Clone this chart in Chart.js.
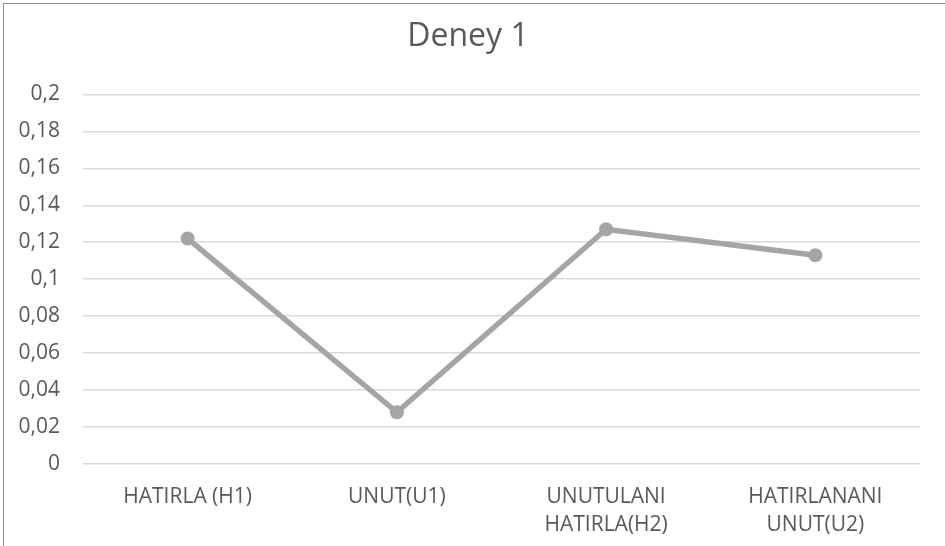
<!DOCTYPE html>
<html>
<head>
<meta charset="utf-8">
<script src="https://cdn.jsdelivr.net/npm/chart.js@4"></script>
<style>
  body { margin: 0; background: #fff; }
  #wrap { position: absolute; left: 0; top: 0; width: 945px; height: 546px; }
  #frame { position: absolute; left: 3px; top: 3px; right: 0; bottom: 0;
           border-left: 1px solid #8c8c8c; border-top: 1px solid #8c8c8c; pointer-events: none; }
</style>
</head>
<body>
<div id="wrap">
  <canvas id="myChart" width="945" height="546"></canvas>
  <div id="frame"></div>
</div>
<script>
// values
const categories = ['HATIRLA (H1)', 'UNUT(U1)', ['UNUTULANI', 'HATIRLA(H2)'], ['HATIRLANANI', 'UNUT(U2)']];
const seriesValues = [0.122, 0.028, 0.127, 0.113];
const yMin = 0;
const yMax = 0.2;
const yStep = 0.02;
const titleText = 'Deney 1';

const textColor = '#595959';
const lineColor = '#a5a5a5';

const data = {
  labels: categories,
  datasets: [{
    label: 'Deney 1',
    data: seriesValues,
    borderColor: lineColor,
    backgroundColor: lineColor,
    borderWidth: 5.5,
    pointRadius: 7,
    pointHoverRadius: 7,
    pointBorderWidth: 0,
    tension: 0
  }]
};

const config = {
  type: 'line',
  data: data,
  options: {
    responsive: false,
    animation: false,
    layout: { padding: { left: 16, right: 25, bottom: 0 } },
    plugins: {
      legend: { display: false },
      tooltip: { enabled: false },
      title: {
        display: true,
        text: titleText,
        color: textColor,
        font: { family: '"Open Sans", sans-serif', size: 32, weight: 'normal' },
        padding: { top: 18, bottom: 38 }
      }
    },
    scales: {
      x: {
        offset: true,
        grid: { display: false },
        border: { display: false },
        afterFit: (scale) => { scale.height = 82; },
        ticks: {
          color: textColor,
          padding: 11,
          maxRotation: 0,
          autoSkip: false,
          font: { family: '"Open Sans", sans-serif', size: 21, lineHeight: 1.32 }
        }
      },
      y: {
        min: yMin,
        max: yMax,
        border: { display: false },
        grid: { color: '#d9d9d9', lineWidth: 1.5, drawTicks: false },
        afterFit: (scale) => { scale.width = 67; },
        ticks: {
          stepSize: yStep,
          color: textColor,
          padding: 23,
          font: { family: '"Open Sans", sans-serif', size: 21 },
          callback: (v) => String(Math.round(v * 100) / 100).replace('.', ',')
        }
      }
    }
  }
};

window.addEventListener('DOMContentLoaded', () => {
  const myChart = new Chart(document.getElementById('myChart'), config);
  console.log('chartArea', JSON.stringify(myChart.chartArea));
});
</script>
</body>
</html>
